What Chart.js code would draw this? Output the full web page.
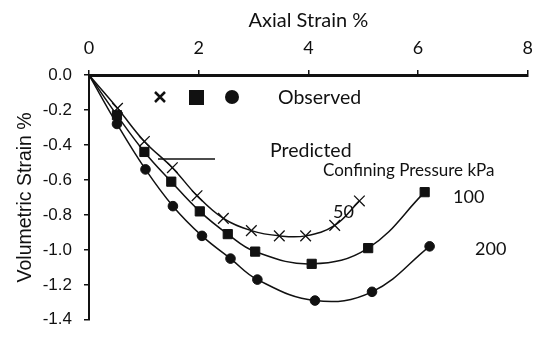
<!DOCTYPE html>
<html>
<head>
<meta charset="utf-8">
<script src="https://cdn.jsdelivr.net/npm/chart.js@4"></script>
<style>
html,body{margin:0;padding:0;background:#fff;}
#wrap{width:544px;height:342px;}
</style>
</head>
<body>
<div id="wrap"><canvas id="c" width="544" height="342"></canvas></div>
<script>
// Data
const strain50 = [0, 0.52, 1.01, 1.52, 1.97, 2.45, 2.96, 3.47, 3.95, 4.48, 4.93];
const vol50    = [0, -0.19, -0.38, -0.53, -0.69, -0.82, -0.89, -0.92, -0.92, -0.86, -0.72];
const strain100 = [0, 0.51, 1.01, 1.50, 2.02, 2.53, 3.03, 4.06, 5.09, 6.12];
const vol100    = [0, -0.23, -0.44, -0.61, -0.78, -0.91, -1.01, -1.08, -0.99, -0.67];
const strain200 = [0, 0.51, 1.03, 1.53, 2.06, 2.58, 3.07, 4.12, 5.16, 6.21];
const vol200    = [0, -0.28, -0.54, -0.75, -0.92, -1.05, -1.17, -1.29, -1.24, -0.98];
const xTicks = [0, 2, 4, 6, 8];
const yTicks = [0, -0.2, -0.4, -0.6, -0.8, -1.0, -1.2, -1.4];

function pts(xs, ys){ return xs.map((x,i)=>({x:x, y:ys[i]})); }
function pointRadii(n, r){ return Array.from({length:n}, (_,i)=> i===0 ? 0 : r); }

const annot = {
  id:'annot',
  afterDraw(chart){
    const ctx = chart.ctx;
    ctx.save();
    ctx.fillStyle = '#111';
    ctx.strokeStyle = '#111';
    // legend markers
    ctx.lineWidth = 2.5;
    ctx.beginPath();
    ctx.moveTo(155,92); ctx.lineTo(165,102);
    ctx.moveTo(165,92); ctx.lineTo(155,102);
    ctx.stroke();
    ctx.fillRect(189,90,15,15);
    ctx.beginPath(); ctx.arc(232,97,7,0,Math.PI*2); ctx.fill();
    ctx.textBaseline = 'middle';
    ctx.textAlign = 'left';
    ctx.font = '19.5px "Lato", "Liberation Sans", sans-serif';
    ctx.fillText('Observed', 278, 98);
    ctx.fillText('Predicted', 270, 151);
    ctx.lineWidth = 1.5;
    ctx.beginPath(); ctx.moveTo(158,159); ctx.lineTo(215,159); ctx.stroke();
    ctx.font = '17px "Lato", "Liberation Sans", sans-serif';
    ctx.fillText('Confining Pressure kPa', 323, 171, 177);
    ctx.font = '18px "Lato", "Liberation Sans", sans-serif';
    ctx.fillText('100', 453, 197);
    ctx.fillText('200', 475, 249);
    ctx.fillText('50', 333, 212);
    ctx.restore();
  }
};

new Chart(document.getElementById('c'), {
  type: 'line',
  data: {
    datasets: [
      { label:'50', data: pts(strain50, vol50), borderColor:'#111', backgroundColor:'#111',
        borderWidth:1.5, tension:0.4, pointStyle:'crossRot', pointRadius: pointRadii(strain50.length,7.5),
        pointBorderWidth:1.3, fill:false },
      { label:'100', data: pts(strain100, vol100), borderColor:'#111', backgroundColor:'#111',
        borderWidth:1.5, tension:0.4, pointStyle:'rect', pointRadius: pointRadii(strain100.length,6.5),
        pointBorderWidth:1, fill:false },
      { label:'200', data: pts(strain200, vol200), borderColor:'#111', backgroundColor:'#111',
        borderWidth:1.5, tension:0.4, pointStyle:'circle', pointRadius: pointRadii(strain200.length,4.8),
        pointBorderWidth:1, fill:false }
    ]
  },
  options: {
    responsive:false,
    animation:false,
    devicePixelRatio:1,
    layout:{ padding:{ left:0, top:0, right:13, bottom:9 } },
    plugins:{ legend:{display:false}, tooltip:{enabled:false} },
    scales:{
      x:{
        type:'linear', position:'top', min:0, max:8,
        afterBuildTicks(s){ s.ticks = xTicks.map(v=>({value:v})); },
        afterFit(s){ s.height = 75; },
        grid:{ display:true, drawOnChartArea:false, drawTicks:true, tickLength:5, color:'#111', lineWidth:1.5 },
        border:{ display:true, color:'#111', width:3 },
        ticks:{ color:'#111', font:{ size:18, family:'"Lato", "Liberation Sans", sans-serif' }, padding:11, maxRotation:0,
          callback:(v)=>String(v) },
        title:{ display:true, text:'Axial Strain %', color:'#111',
          font:{ size:20, family:'"Lato", "Liberation Sans", sans-serif' }, padding:{top:9, bottom:4} }
      },
      y:{
        type:'linear', min:-1.4, max:0,
        afterBuildTicks(s){ s.ticks = yTicks.map(v=>({value:v})); },
        afterFit(s){ s.width = 89; },
        grid:{ display:true, drawOnChartArea:false, drawTicks:true, tickLength:5, color:'#111', lineWidth:1.5 },
        border:{ display:true, color:'#111', width:2 },
        ticks:{ color:'#111', font:{ size:17, family:'"Liberation Sans", sans-serif' }, padding:12,
          callback:(v)=> v.toFixed(1) },
        title:{ display:true, text:'Volumetric Strain %', color:'#111',
          font:{ size:19.5, family:'"Liberation Sans", sans-serif' }, padding:{top:14, bottom:0} }
      }
    }
  },
  plugins:[annot]
});
</script>
</body>
</html>
